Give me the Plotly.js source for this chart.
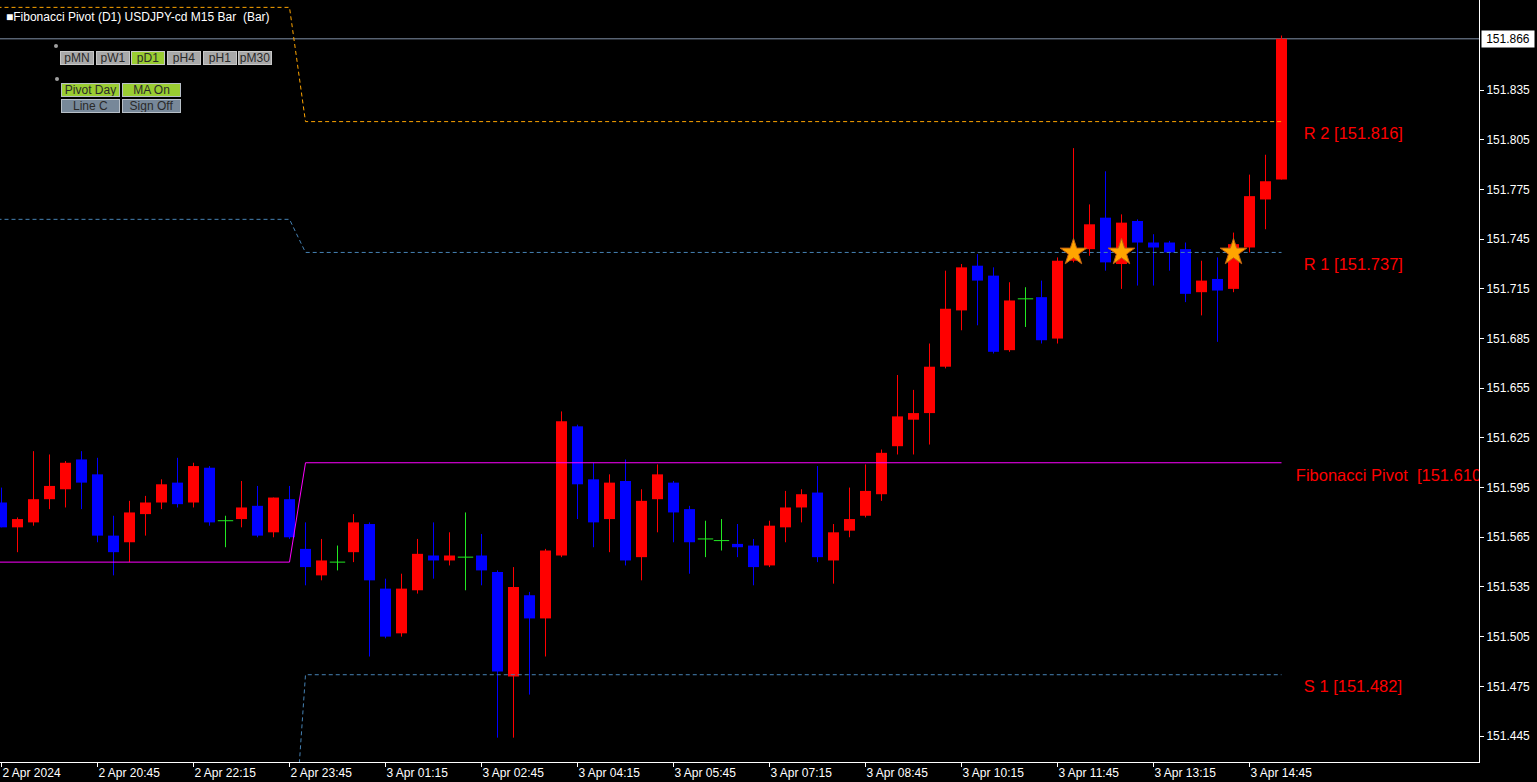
<!DOCTYPE html>
<html><head><meta charset="utf-8">
<script src="https://cdn.plot.ly/plotly-3.0.1.min.js"></script>
<style>html,body{margin:0;padding:0;background:#000;overflow:hidden}#chart{width:1537px;height:782px}</style>
</head><body><div id="chart"></div>
<script>
// ---- data (USDJPY M15) ----
const openP  = [151.586,151.571,151.574,151.588,151.594,151.612,151.603,151.566,151.562,151.579,
                151.586,151.598,151.586,151.607,151.575,151.576,151.584,151.568,151.588,151.558,
                151.542,151.550,151.556,151.573,151.534,151.507,151.533,151.554,151.551,151.553,
                151.554,151.544,151.481,151.530,151.516,151.554,151.632,151.600,151.576,151.599,
                151.553,151.588,151.598,151.582,151.564,151.563,151.561,151.560,151.548,151.571,
                151.583,151.592,151.551,151.569,151.578,151.591,151.620,151.636,151.640,151.668,
                151.702,151.729,151.723,151.678,151.709,151.710,151.685,151.732,151.739,151.758,
                151.730,151.756,151.743,151.743,151.739,151.713,151.721,151.715,151.740,151.769,
                151.781];
const highP  = [151.595,151.577,151.617,151.615,151.611,151.617,151.613,151.578,151.587,151.590,
                151.600,151.613,151.610,151.608,151.578,151.599,151.596,151.589,151.596,151.574,
                151.564,151.560,151.579,151.574,151.540,151.543,151.564,151.574,151.568,151.580,
                151.567,151.545,151.547,151.532,151.558,151.641,151.633,151.610,151.603,151.612,
                151.594,151.609,151.599,151.584,151.575,151.576,151.573,151.564,151.575,151.593,
                151.594,151.608,151.573,151.595,151.609,151.618,151.663,151.654,151.682,151.726,
                151.730,151.736,151.728,151.719,151.716,151.720,151.734,151.800,151.766,151.786,
                151.760,151.757,151.748,151.744,151.743,151.732,151.734,151.749,151.784,151.796,
                151.868];
const lowP   = [151.571,151.556,151.572,151.582,151.583,151.582,151.562,151.542,151.550,151.566,
                151.582,151.583,151.583,151.572,151.559,151.571,151.565,151.565,151.564,151.536,
                151.539,151.545,151.550,151.493,151.504,151.505,151.531,151.540,151.548,151.533,
                151.536,151.444,151.444,151.470,151.493,151.553,151.576,151.559,151.556,151.548,
                151.539,151.568,151.562,151.543,151.553,151.557,151.553,151.536,151.547,151.562,
                151.574,151.550,151.537,151.565,151.577,151.587,151.615,151.615,151.621,151.667,
                151.690,151.693,151.676,151.677,151.692,151.682,151.682,151.731,151.735,151.726,
                151.715,151.717,151.717,151.726,151.707,151.699,151.683,151.713,151.737,151.751,
                151.781];
const closeP = [151.571,151.576,151.588,151.596,151.610,151.598,151.566,151.556,151.580,151.586,
                151.597,151.585,151.608,151.574,151.575,151.583,151.566,151.589,151.565,151.547,
                151.551,151.550,151.574,151.539,151.505,151.534,151.555,151.551,151.554,151.553,
                151.545,151.484,151.535,151.516,151.557,151.635,151.597,151.574,151.598,151.551,
                151.587,151.603,151.580,151.562,151.564,151.563,151.559,151.547,151.572,151.583,
                151.591,151.553,151.568,151.576,151.593,151.616,151.638,151.640,151.668,151.703,
                151.728,151.720,151.677,151.708,151.709,151.684,151.732,151.739,151.754,151.731,
                151.755,151.743,151.740,151.737,151.712,151.720,151.714,151.742,151.771,151.780,
                151.866];

const tickBars   = [0,6,12,18,24,30,36,42,48,54,60,66,72,78];
const tickLabels = ['2 Apr 2024','2 Apr 20:45','2 Apr 22:15','2 Apr 23:45','3 Apr 01:15','3 Apr 02:45',
                    '3 Apr 04:15','3 Apr 05:45','3 Apr 07:15','3 Apr 08:45','3 Apr 10:15','3 Apr 11:45',
                    '3 Apr 13:15','3 Apr 14:45'];
const priceTicks = [151.445,151.475,151.505,151.535,151.565,151.595,151.625,151.655,151.685,
                    151.715,151.745,151.775,151.805,151.835];

const levelLabels = ['R 2','R 1','Fibonacci Pivot\u00a0','S 1'];
const prevLevels  = [151.885,151.757,151.550,151.343];
const currLevels  = [151.816,151.737,151.610,151.482];
const levelColors = ['#FFA500','#4682B4','#FF00FF','#4682B4'];
const levelDash   = ['4px,3px','4px,3px','solid','4px,3px'];
const dayStartBar = 19;
const starBars    = [67,70,77];

const row1Buttons = ['pMN','pW1','pD1','pH4','pH1','pM30'];
const row1Colors  = ['#A9A9A9','#A9A9A9','#9ACD32','#A9A9A9','#A9A9A9','#A9A9A9'];
const row2Buttons = ['Pivot Day','MA On','Line C','Sign Off'];
const row2Colors  = ['#9ACD32','#9ACD32','#778899','#778899'];
const titleText   = '\u25A0Fibonacci Pivot (D1) USDJPY-cd M15 Bar \u00a0(Bar)';

// ---- build ----
const W = 1479, H = 762;   // plot area in px
const idx = openP.map((_, i) => i);
const lastBar = idx[idx.length - 1];
const groups = {up: {c:'#FF0000'}, down: {c:'#0000FF'}, doji: {c:'#22E822'}};
for (const g in groups) { Object.assign(groups[g], {bx:[], by:[], bb:[], wx:[], wy:[]}); }
idx.forEach(i => {
  const o = openP[i], c = closeP[i];
  const g = c > o ? groups.up : (c < o ? groups.down : groups.doji);
  g.bx.push(i); g.by.push(Math.abs(c - o)); g.bb.push(Math.min(o, c));
  g.wx.push(i, i, null); g.wy.push(lowP[i], highP[i], null);
});

const traces = [];
['up','down'].forEach(k => {
  const g = groups[k];
  traces.push({type:'bar', x:g.bx, y:g.by, base:g.bb, width:0.6875,
    marker:{color:g.c, line:{width:0}}, hoverinfo:'skip'});
});
for (const k in groups) {
  const g = groups[k];
  traces.push({type:'scatter', mode:'lines', x:g.wx, y:g.wy,
    line:{color:g.c, width:1}, hoverinfo:'skip'});
}
traces.push({type:'scatter', mode:'markers', x:groups.doji.bx, y:groups.doji.bb,
  marker:{symbol:'line-ew', size:11, line:{color:groups.doji.c, width:1}}, hoverinfo:'skip'});

// pivot level lines
levelLabels.forEach((name, j) => {
  traces.push({type:'scatter', mode:'lines',
    x:[-2, dayStartBar - 1, dayStartBar, lastBar],
    y:[prevLevels[j], prevLevels[j], currLevels[j], currLevels[j]],
    line:{color:levelColors[j], width:1, dash:levelDash[j]}, hoverinfo:'skip'});
});
// level labels
traces.push({type:'scatter', mode:'markers+text',
  x: levelLabels.map((n, j) => lastBar + (j === 2 ? 0.56 : 1.06)),
  y: currLevels,
  text: levelLabels.map((n, j) => n + ' [' + currLevels[j].toFixed(3) + ']'),
  marker:{size:7, color:'rgba(0,0,0,0)'},
  textposition:'bottom right', cliponaxis:true,
  textfont:{family:'Liberation Sans, Arial, sans-serif', size:16.5, color:'#FF0000'}, hoverinfo:'skip'});
// stars at R1 touches
traces.push({type:'scatter', mode:'markers', x:starBars, y:starBars.map(() => currLevels[1]),
  marker:{symbol:'star', size:20, color:'#FFA500', line:{color:'#C06010', width:1}}, hoverinfo:'skip'});

const lastPrice = closeP[lastBar];
const px = v => v / W, py = v => 1 - v / H;
const annotations = [
  {xref:'paper', yref:'paper', x:px(4), y:py(17), xanchor:'left', yanchor:'middle', showarrow:false,
   text:titleText, font:{family:'Liberation Sans, Arial, sans-serif', size:12, color:'#FFFFFF'}},
  {xref:'paper', yref:'y', x:1, y:lastPrice, xanchor:'left', yanchor:'middle', xshift:2, showarrow:false,
   text:lastPrice.toFixed(3), bgcolor:'#FFFFFF', borderpad:1, width:50,
   font:{family:'Liberation Sans, Arial, sans-serif', size:12, color:'#000000'}}
];
const bFont = {family:'Liberation Sans, Arial, sans-serif', size:12, color:'#2A2A2A'};
const r1Left = [60, 95.5, 131, 166.5, 202.5, 238];
row1Buttons.forEach((t, i) => annotations.push({xref:'paper', yref:'paper', x:px(r1Left[i]), y:py(50.5),
  xanchor:'left', yanchor:'top', showarrow:false, text:t, width:32, height:12, borderpad:0,
  bgcolor:row1Colors[i], bordercolor:'#C8C8C8', borderwidth:1, font:bFont}));
const r2Left = [61, 122], r2Top = [83, 99];
row2Buttons.forEach((t, i) => annotations.push({xref:'paper', yref:'paper', x:px(r2Left[i % 2]),
  y:py(r2Top[Math.floor(i / 2)]), xanchor:'left', yanchor:'top', showarrow:false, text:t,
  width:57, height:12, borderpad:0, bgcolor:row2Colors[i], bordercolor:'#B8C0C8', borderwidth:1, font:bFont}));

const shapes = [
  {type:'line', xref:'paper', yref:'y', x0:0, x1:1, y0:lastPrice, y1:lastPrice,
   line:{color:'#8090A8', width:1}, layer:'below'},
  {type:'circle', xref:'paper', yref:'paper', x0:px(54), x1:px(58), y0:py(44), y1:py(48),
   fillcolor:'#A0A0A0', line:{width:0}},
  {type:'circle', xref:'paper', yref:'paper', x0:px(55), x1:px(59), y0:py(77), y1:py(81),
   fillcolor:'#A0A0A0', line:{width:0}}
];

const layout = {
  width:1537, height:782, margin:{l:0, r:58, t:0, b:20, pad:0},
  paper_bgcolor:'#000000', plot_bgcolor:'#000000', showlegend:false, barmode:'overlay',
  hovermode:false, dragmode:false,
  xaxis:{range:[-1.5/16, -1.5/16 + W/16], showgrid:false, zeroline:false, showline:true,
    linecolor:'#FFFFFF', linewidth:1, ticks:'outside', ticklen:4, tickcolor:'#FFFFFF',
    tickvals:tickBars, ticktext:tickLabels, ticklabelposition:'outside right',
    tickfont:{family:'Liberation Sans, Arial, sans-serif', size:12, color:'#FFFFFF'}, fixedrange:true},
  yaxis:{range:[151.445 - 26/1656, 151.445 + 736/1656], side:'right', showgrid:false, zeroline:false,
    showline:true, linecolor:'#FFFFFF', linewidth:1, ticks:'outside', ticklen:4, tickcolor:'#FFFFFF',
    tickvals:priceTicks, ticktext:priceTicks.map(v => v.toFixed(3)),
    tickfont:{family:'Liberation Sans, Arial, sans-serif', size:12, color:'#FFFFFF'}, fixedrange:true},
  annotations, shapes
};
Plotly.newPlot('chart', traces, layout, {displayModeBar:false, staticPlot:true});
</script></body></html>
